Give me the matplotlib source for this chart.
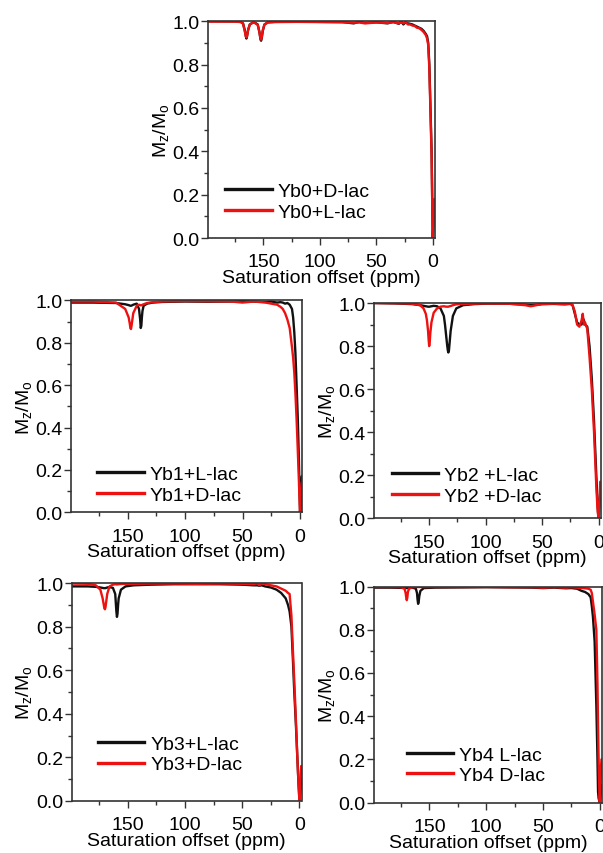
import matplotlib
matplotlib.use('Agg')
import matplotlib.pyplot as plt
from matplotlib.ticker import MultipleLocator, FormatStrFormatter

plt.rcParams['font.family'] = ['Liberation Sans', 'DejaVu Sans']
plt.rcParams['mathtext.fontset'] = 'custom'
plt.rcParams['mathtext.rm'] = 'Liberation Sans'
plt.rcParams['font.size'] = 14

# ---- data (x = saturation offset in ppm) ----
# Yb0
x0 = [200, 175, 170, 168, 166.5, 165.5, 165, 164.5, 163.5, 162, 159, 157, 155, 153.5, 152.5, 152, 151.5, 150.5,
      149, 146, 140, 120, 100, 80, 70, 65, 60, 50, 40, 35, 30, 28, 26, 24, 22, 20, 18, 16, 14, 12, 10, 8, 6,
      5, 4, 3, 2.5, 2, 1, 0.5, 0, -1, -1.5, -2]
y0_black = [1.0, 0.999, 0.997, 0.99, 0.96, 0.93, 0.92, 0.93, 0.96, 0.985, 0.995, 0.992, 0.985, 0.95, 0.915, 0.91,
            0.92, 0.955, 0.985, 0.995, 0.997, 0.998, 0.997, 0.996, 0.99, 0.997, 0.992, 0.995, 0.99, 0.997, 0.988,
            1.0, 0.985, 0.995, 0.99, 0.988, 0.985, 0.98, 0.975, 0.97, 0.965, 0.955, 0.94,
            0.93, 0.9, 0.8, 0.7, 0.6, 0.4, 0.2, 0.0, 0.1, 0.16, 0.16]
y0_red = [0.998, 0.998, 0.996, 0.988, 0.955, 0.93, 0.925, 0.93, 0.96, 0.985, 0.994, 0.99, 0.983, 0.95, 0.92, 0.915,
          0.925, 0.96, 0.985, 0.994, 0.996, 0.997, 0.996, 0.995, 0.993, 0.994, 0.99, 0.994, 0.992, 0.995, 0.99,
          0.998, 0.99, 0.997, 0.985, 0.985, 0.98, 0.978, 0.97, 0.968, 0.96, 0.95, 0.935,
          0.92, 0.89, 0.78, 0.68, 0.58, 0.38, 0.18, 0.0, 0.12, 0.18, 0.18]
labels0 = ['Yb0+D-lac', 'Yb0+L-lac']

# Yb1
x1 = [200, 180, 160, 152, 149, 148, 147.5, 147, 146.5, 146, 145, 142, 140, 139, 138.5, 138, 137.5, 137, 136, 133,
      128, 120, 100, 80, 60, 50, 40, 30, 25, 20, 17, 15, 13, 11, 9, 7, 6, 5, 4, 3, 2, 1, 0.5, 0, -1, -1.5, -2]
y1_black = [0.99, 0.99, 0.988, 0.982, 0.978, 0.976, 0.975, 0.975, 0.976, 0.977, 0.98, 0.985, 0.96, 0.91, 0.87,
            0.88, 0.92, 0.95, 0.975, 0.985, 0.99, 0.993, 0.995, 0.994, 0.995, 0.997, 0.995, 0.993, 0.995, 0.99,
            0.992, 0.99, 0.985, 0.988, 0.98, 0.96, 0.92, 0.85, 0.75, 0.6, 0.45, 0.25, 0.12, 0.0, 0.1, 0.17, 0.17]
y1_red = [0.995, 0.995, 0.99, 0.96, 0.92, 0.89, 0.87, 0.865, 0.88, 0.9, 0.94, 0.975, 0.98, 0.978, 0.977, 0.977,
          0.978, 0.98, 0.982, 0.988, 0.992, 0.995, 0.997, 0.996, 0.995, 0.99, 0.995, 0.99, 0.985, 0.98,
          0.97, 0.96, 0.94, 0.91, 0.87, 0.78, 0.73, 0.66, 0.56, 0.44, 0.3, 0.15, 0.07, 0.0, 0.08, 0.14, 0.14]
labels1 = ['Yb1+L-lac', 'Yb1+D-lac']

# Yb2
x2 = [200, 180, 165, 158, 155, 153, 152, 151, 150.5, 150, 149.5, 149, 148, 146, 143, 140, 137, 136, 135, 134, 133.5,
      133, 132.5, 132, 131, 129, 126, 120, 110, 100, 80, 65, 60, 55, 50, 40, 30, 25, 23, 21, 19, 17, 15, 14, 13,
      12, 10, 8, 6, 4, 2, 1, 0.5, 0, -1, -1.5, -2]
y2_black = [1.0, 0.998, 0.995, 0.99, 0.987, 0.985, 0.984, 0.983, 0.983, 0.983, 0.983, 0.984, 0.985, 0.987, 0.985,
            0.975, 0.94, 0.9, 0.85, 0.8, 0.78, 0.77, 0.78, 0.81, 0.87, 0.94, 0.975, 0.99, 0.995, 0.997, 0.997,
            0.993, 0.99, 0.992, 0.995, 0.996, 0.994, 0.996, 0.99, 0.95, 0.91, 0.9, 0.9, 0.93, 0.92,
            0.9, 0.89, 0.8, 0.65, 0.45, 0.2, 0.08, 0.03, 0.0, 0.08, 0.12, 0.12]
y2_red = [1.0, 0.999, 0.997, 0.99, 0.975, 0.95, 0.92, 0.87, 0.83, 0.8, 0.82, 0.86, 0.91, 0.955, 0.975, 0.983,
          0.985, 0.984, 0.983, 0.983, 0.983, 0.983, 0.984, 0.985, 0.986, 0.99, 0.994, 0.996, 0.997, 0.998, 0.997,
          0.99, 0.985, 0.99, 0.995, 0.997, 0.995, 0.997, 0.99, 0.96, 0.9, 0.89, 0.92, 0.95, 0.9,
          0.91, 0.88, 0.75, 0.6, 0.4, 0.15, 0.05, 0.02, 0.0, 0.1, 0.17, 0.17]
labels2 = ['Yb2 +L-lac', 'Yb2 +D-lac']

# Yb3
x3 = [200, 185, 178, 174, 172, 171, 170.5, 170, 169.5, 169, 168, 166, 163, 161, 160.5, 160, 159.5, 159, 158.5, 158,
      156, 152, 145, 130, 110, 90, 70, 50, 40, 37, 35, 33, 30, 25, 20, 16, 12, 10, 8.6, 7, 5.8, 4.5, 3, 2, 1,
      0.5, 0, -1, -1.5, -2]
y3_black = [0.985, 0.985, 0.983, 0.98, 0.978, 0.977, 0.977, 0.977, 0.977, 0.978, 0.98, 0.982, 0.978, 0.95, 0.91,
            0.87, 0.845, 0.86, 0.9, 0.93, 0.97, 0.985, 0.99, 0.993, 0.995, 0.995, 0.995, 0.993, 0.99, 0.99,
            0.988, 0.99, 0.985, 0.98, 0.97, 0.955, 0.93, 0.9, 0.87, 0.8, 0.66, 0.5, 0.34, 0.22, 0.1,
            0.05, 0.0, 0.06, 0.1, 0.1]
y3_red = [0.998, 0.997, 0.99, 0.97, 0.93, 0.9, 0.885, 0.88, 0.89, 0.91, 0.95, 0.985, 0.993, 0.995, 0.995, 0.994,
          0.994, 0.994, 0.995, 0.995, 0.996, 0.997, 0.997, 0.998, 0.998, 0.997, 0.998, 0.997, 0.995, 1.0,
          0.99, 1.0, 0.995, 0.99, 0.985, 0.975, 0.965, 0.955, 0.95, 0.85, 0.7, 0.55, 0.36, 0.22, 0.1,
          0.05, 0.0, 0.1, 0.16, 0.16]
labels3 = ['Yb3+L-lac', 'Yb3+D-lac']

# Yb4
x4 = [200, 185, 175, 172, 171, 170.5, 170, 169.5, 169, 168, 165, 162, 161, 160.5, 160, 159.5, 159, 158, 155, 145,
      120, 100, 80, 60, 50, 40, 30, 25, 20, 16, 13, 10, 8, 7, 6, 4.5, 3, 2, 1.5, 1, 0.5, 0, -1, -1.5, -2]
y4_black = [0.995, 0.995, 0.994, 0.993, 0.993, 0.993, 0.993, 0.993, 0.993, 0.994, 0.995, 0.99, 0.97, 0.94, 0.92,
            0.93, 0.955, 0.98, 0.993, 0.995, 0.996, 0.997, 0.996, 0.995, 0.993, 0.995, 0.992, 0.993, 0.99,
            0.98, 0.975, 0.965, 0.95, 0.91, 0.86, 0.745, 0.45, 0.2, 0.05, 0.02, 0.01, 0.0, 0.05, 0.08, 0.08]
y4_red = [0.998, 0.998, 0.997, 0.99, 0.97, 0.95, 0.937, 0.95, 0.975, 0.99, 0.997, 0.998, 0.998, 0.998, 0.998,
          0.998, 0.998, 0.998, 0.998, 0.998, 0.998, 0.998, 0.997, 0.997, 0.995, 0.997, 0.995, 0.997, 0.995,
          0.993, 0.992, 0.99, 0.985, 0.97, 0.93, 0.87, 0.8, 0.55, 0.36, 0.2, 0.08, 0.0, 0.15, 0.2, 0.2]
labels4 = ['Yb4 L-lac', 'Yb4 D-lac']

# ---- layout (figure fractions) and legend anchors (axes fractions) ----
fig = plt.figure(figsize=(6.03, 8.54), dpi=100)
panels = [
    ([0.345, 0.720, 0.376, 0.254], x0, y0_black, y0_red, labels0, (0.075, 0.168)),
    ([0.118, 0.399, 0.383, 0.248], x1, y1_black, y1_red, labels1, (0.113, 0.130)),
    ([0.620, 0.392, 0.376, 0.252], x2, y2_black, y2_red, labels2, (0.079, 0.152)),
    ([0.119, 0.061, 0.381, 0.255], x3, y3_black, y3_red, labels3, (0.113, 0.214)),
    ([0.620, 0.059, 0.378, 0.253], x4, y4_black, y4_red, labels4, (0.144, 0.174)),
]

for rect, x, yk, yr, labels, anchor in panels:
    ax = fig.add_axes(rect)
    ax.plot(x, yk, color='#111111', lw=1.7, label=labels[0])
    ax.plot(x, yr, color='#ee1111', lw=1.7, label=labels[1])
    ax.set_xlim(199, -1.8)
    ax.set_ylim(0, 1.0)
    ax.xaxis.set_major_locator(MultipleLocator(50))
    ax.xaxis.set_minor_locator(MultipleLocator(25))
    ax.yaxis.set_major_locator(MultipleLocator(0.2))
    ax.yaxis.set_minor_locator(MultipleLocator(0.1))
    ax.yaxis.set_major_formatter(FormatStrFormatter('%.1f'))
    ax.tick_params(which='major', direction='out', length=5, width=1, color='#333333')
    ax.tick_params(which='minor', direction='out', length=3, width=1, color='#333333')
    ax.tick_params(axis='x', which='major', pad=6)
    ax.tick_params(axis='y', which='major', pad=1)
    for s in ax.spines.values():
        s.set_linewidth(1.2)
        s.set_color('#333333')
    ax.set_xlabel('Saturation offset (ppm)', labelpad=-1)
    ax.set_ylabel(r'M$_\mathregular{z}$/M$_\mathregular{o}$', labelpad=0.5)
    leg = ax.legend(loc='center left', bbox_to_anchor=anchor, frameon=False, borderpad=0, borderaxespad=0,
                    handlelength=2.4, handletextpad=0.3, labelspacing=0.15)
    for line in leg.get_lines():
        line.set_linewidth(2.4)

fig.savefig('out.png', dpi=100)
